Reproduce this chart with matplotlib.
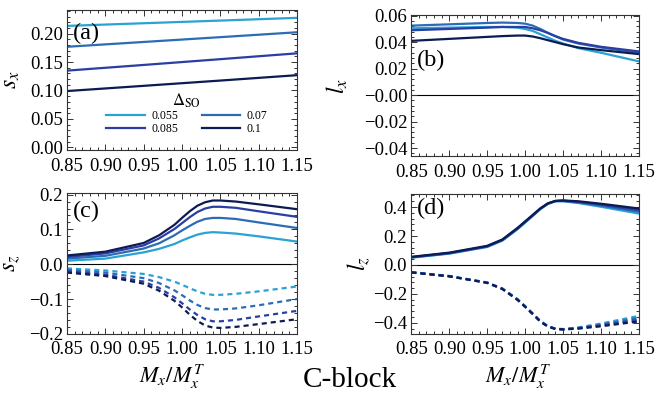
import matplotlib
matplotlib.use("Agg")
import matplotlib.pyplot as plt
from matplotlib.ticker import MultipleLocator

plt.rcParams["font.family"] = ["Liberation Serif", "DejaVu Serif"]
plt.rcParams["mathtext.fontset"] = "stix"
plt.rcParams["axes.unicode_minus"] = True

# data
deltas = ["0.055", "0.07", "0.085", "0.1"]
colors = ["#2aa2d4", "#2b6cb4", "#2a3ea4", "#0c1b52"]

# (a) nearly straight lines
x_sx = [0.85, 0.95, 1.05, 1.15]
sx = [
    [0.2138, 0.2185, 0.2232, 0.2280],
    [0.1770, 0.1855, 0.1940, 0.2026],
    [0.1350, 0.1450, 0.1552, 0.1655],
    [0.0990, 0.1082, 0.1175, 0.1270],
]

x = [0.85, 0.90, 0.95, 0.97, 0.99, 1.00, 1.01, 1.02, 1.03, 1.04, 1.05, 1.07, 1.10, 1.15]
lx = [
    [0.0505, 0.0510, 0.0515, 0.0515, 0.0510, 0.0500, 0.0485, 0.0460, 0.0435, 0.0410, 0.0390, 0.0355, 0.0320, 0.0255],
    [0.0525, 0.0535, 0.0545, 0.0548, 0.0545, 0.0540, 0.0525, 0.0500, 0.0470, 0.0445, 0.0420, 0.0390, 0.0360, 0.0320],
    [0.0490, 0.0500, 0.0510, 0.0515, 0.0515, 0.0515, 0.0505, 0.0490, 0.0470, 0.0445, 0.0425, 0.0395, 0.0365, 0.0330],
    [0.0410, 0.0425, 0.0440, 0.0446, 0.0450, 0.0450, 0.0443, 0.0430, 0.0415, 0.0400, 0.0385, 0.0360, 0.0340, 0.0310],
]
sz_up = [
    [0.010, 0.016, 0.034, 0.044, 0.058, 0.068, 0.077, 0.085, 0.090, 0.092, 0.091, 0.088, 0.080, 0.065],
    [0.016, 0.024, 0.045, 0.060, 0.083, 0.097, 0.110, 0.122, 0.130, 0.133, 0.133, 0.130, 0.120, 0.104],
    [0.021, 0.031, 0.054, 0.074, 0.101, 0.118, 0.135, 0.150, 0.160, 0.165, 0.165, 0.162, 0.152, 0.136],
    [0.025, 0.036, 0.061, 0.083, 0.113, 0.133, 0.152, 0.168, 0.178, 0.183, 0.183, 0.180, 0.172, 0.158],
]
sz_dn = [
    [-0.012, -0.018, -0.028, -0.037, -0.050, -0.059, -0.069, -0.078, -0.085, -0.088, -0.088, -0.085, -0.078, -0.064],
    [-0.016, -0.024, -0.040, -0.054, -0.075, -0.089, -0.104, -0.117, -0.126, -0.130, -0.130, -0.127, -0.118, -0.100],
    [-0.020, -0.030, -0.050, -0.068, -0.095, -0.112, -0.130, -0.146, -0.158, -0.164, -0.164, -0.160, -0.150, -0.134],
    [-0.024, -0.034, -0.056, -0.076, -0.105, -0.124, -0.145, -0.163, -0.176, -0.182, -0.183, -0.180, -0.172, -0.158],
]
lz_up = [
    [0.050, 0.078, 0.124, 0.168, 0.247, 0.292, 0.338, 0.385, 0.422, 0.440, 0.440, 0.428, 0.402, 0.355],
    [0.052, 0.080, 0.127, 0.171, 0.250, 0.296, 0.341, 0.387, 0.423, 0.441, 0.442, 0.432, 0.410, 0.367],
    [0.054, 0.082, 0.129, 0.173, 0.253, 0.298, 0.343, 0.389, 0.424, 0.442, 0.444, 0.436, 0.416, 0.379],
    [0.056, 0.085, 0.132, 0.176, 0.256, 0.301, 0.346, 0.391, 0.426, 0.443, 0.446, 0.440, 0.423, 0.390],
]
lz_dn = [
    [-0.050, -0.076, -0.121, -0.162, -0.236, -0.284, -0.334, -0.386, -0.422, -0.440, -0.443, -0.432, -0.405, -0.352],
    [-0.050, -0.077, -0.122, -0.164, -0.238, -0.286, -0.336, -0.388, -0.423, -0.441, -0.444, -0.435, -0.412, -0.365],
    [-0.051, -0.078, -0.123, -0.165, -0.240, -0.288, -0.338, -0.390, -0.425, -0.442, -0.445, -0.438, -0.418, -0.378],
    [-0.052, -0.079, -0.124, -0.167, -0.242, -0.290, -0.340, -0.392, -0.426, -0.443, -0.446, -0.440, -0.424, -0.390],
]

fig = plt.figure(figsize=(6.56, 3.96), dpi=100)
axa = fig.add_axes([0.102, 0.621, 0.351, 0.354])
axb = fig.add_axes([0.627, 0.606, 0.347, 0.356])
axc = fig.add_axes([0.102, 0.157, 0.351, 0.356])
axd = fig.add_axes([0.627, 0.157, 0.347, 0.353])

dash = (0, (2.3, 1.8))
lw = 1.6

handles = []
for i in range(4):
    h, = axa.plot(x_sx, sx[i], color=colors[i], lw=lw, label=deltas[i])
    handles.append(h)
    axb.plot(x, lx[i], color=colors[i], lw=lw)
    axc.plot(x, sz_up[i], color=colors[i], lw=lw)
    axc.plot(x, sz_dn[i], color=colors[i], lw=lw, ls=dash)
    axd.plot(x, lz_up[i], color=colors[i], lw=lw)
    axd.plot(x, lz_dn[i], color=colors[i], lw=lw, ls=dash)

for ax in (axb, axc, axd):
    ax.axhline(0, color="black", lw=0.8, zorder=0)

axa.set_ylim(-0.005, 0.242)
axb.set_ylim(-0.046, 0.0605)
axc.set_ylim(-0.2, 0.205)
axd.set_ylim(-0.476, 0.49)

axa.yaxis.set_major_locator(MultipleLocator(0.05))
axa.yaxis.set_minor_locator(MultipleLocator(0.01))
axb.set_yticks([-0.04, -0.02, 0.0, 0.02, 0.04, 0.06])
axb.set_yticklabels(["\u22120.04", "\u22120.02", "\u22120.00", "0.02", "0.04", "0.06"])
axb.yaxis.set_minor_locator(MultipleLocator(0.004))
axc.yaxis.set_major_locator(MultipleLocator(0.1))
axc.yaxis.set_minor_locator(MultipleLocator(0.02))
axd.yaxis.set_major_locator(MultipleLocator(0.2))
axd.yaxis.set_minor_locator(MultipleLocator(0.04))

for ax in (axa, axb, axc, axd):
    ax.set_xlim(0.85, 1.15)
    ax.xaxis.set_major_locator(MultipleLocator(0.05))
    ax.xaxis.set_minor_locator(MultipleLocator(0.01))
    ax.tick_params(which="both", direction="in", top=True, right=True,
                   labelsize=13.5, pad=3, width=0.7, colors="#333333",
                   labelcolor="black")
    ax.tick_params(axis="x", which="major", pad=5.5)
    ax.tick_params(which="major", length=4)
    ax.tick_params(which="minor", length=2)
    for s in ax.spines.values():
        s.set_linewidth(0.8)
        s.set_color("#333333")

axa.set_ylabel(r"$s_x$", fontsize=17)
axb.set_ylabel(r"$l_x$", fontsize=17)
axc.set_ylabel(r"$s_z$", fontsize=17)
axd.set_ylabel(r"$l_z$", fontsize=17)
axa.yaxis.set_label_coords(-0.196, 0.5)
axb.yaxis.set_label_coords(-0.27, 0.5)
axc.yaxis.set_label_coords(-0.19, 0.5)
axd.yaxis.set_label_coords(-0.167, 0.5)

axc.set_xlabel(r"$M_x/M_x^T$", fontsize=16)
axd.set_xlabel(r"$M_x/M_x^T$", fontsize=16)
axc.xaxis.set_label_coords(0.456, -0.205)
axd.xaxis.set_label_coords(0.47, -0.205)

panel_lbl = [(axa, "(a)", 0.83), (axb, "(b)", 0.68), (axc, "(c)", 0.865), (axd, "(d)", 0.9)]
for ax, t, yy in panel_lbl:
    ax.text(0.025, yy, t, transform=ax.transAxes, fontsize=17.5, va="center", ha="left")

# column-major fill -> reorder so rows read 0.055, 0.07 / 0.085, 0.1
order = [0, 2, 1, 3]
leg = axa.legend([handles[k] for k in order], [deltas[k] for k in order],
                 ncol=2, title=r"$\Delta_{\rm SO}$", frameon=False, fontsize=8.5,
                 title_fontsize=12, loc="upper center", bbox_to_anchor=(0.52, 0.47),
                 handlelength=3.3, handletextpad=0.55, columnspacing=2.0,
                 labelspacing=0.05, borderpad=0.1)

fig.text(0.534, 0.04, "C-block", fontsize=21, ha="center", va="center")

fig.savefig("out.png", dpi=100)
